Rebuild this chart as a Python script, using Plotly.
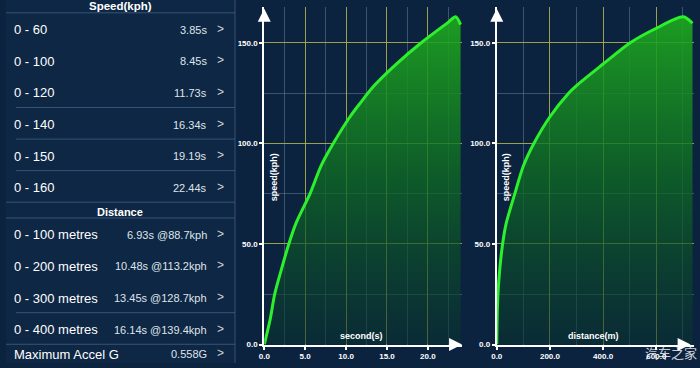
import plotly.graph_objects as go

# ---------------- data ----------------
speed_labels = ["0 - 60", "0 - 100", "0 - 120", "0 - 140", "0 - 150", "0 - 160"]
speed_values = ["3.85s", "8.45s", "11.73s", "16.34s", "19.19s", "22.44s"]
distance_labels = ["0 - 100 metres", "0 - 200 metres", "0 - 300 metres", "0 - 400 metres"]
distance_values = ["6.93s @88.7kph", "10.48s @113.2kph", "13.45s @128.7kph", "16.14s @139.4kph"]
accel_label = "Maximum Accel G"
accel_value = "0.558G"

time_s = [0, 0.73, 1.27, 2.07, 3.0, 3.85, 5.6, 6.93, 8.45, 10.48, 11.73, 13.45, 16.14, 19.19, 22.44, 23.4, 24.0]
speed_t = [0, 12.7, 25, 37, 50, 60, 75, 88.7, 100, 113.2, 120, 128.7, 139.4, 150, 160, 162.9, 159.0]

dist_m = [0, 1.3, 4.5, 11, 22, 35, 68, 100, 140, 200, 271, 300, 400, 502, 600, 701, 736]
speed_d = [0, 12.7, 25, 37, 50, 60, 75, 88.7, 100, 113.2, 125, 128.7, 139.4, 150, 157.2, 162.9, 159.7]

x1_ticks = [0, 5, 10, 15, 20]
x2_ticks = [0, 200, 400, 600]
y_ticks = [0, 50, 100, 150]

# ---------------- styling ----------------
W, H = 700, 368
BG = "#0c2340"
PANEL = "#0e2744"
SEP = "rgba(70,100,135,0.75)"
MAJOR = "rgba(175,175,70,0.85)"
MINOR = "rgba(95,125,150,0.55)"
LINE = "#2cf02c"
FONT = "Liberation Sans"


def px(x):
    return x / W


def py(y):
    return 1 - y / H


fig = go.Figure()

fill_grad = dict(type="vertical",
                 colorscale=[[0, "rgba(8,50,45,0.55)"], [0.5, "rgba(14,105,35,0.78)"], [1, "rgba(30,170,30,0.9)"]])

fig.add_trace(go.Scatter(x=time_s, y=speed_t, mode="lines", xaxis="x", yaxis="y",
                         line=dict(color=LINE, width=3, shape="spline", smoothing=0.8),
                         fill="tozeroy", fillgradient=fill_grad, hoverinfo="skip", showlegend=False))
fig.add_trace(go.Scatter(x=dist_m, y=speed_d, mode="lines", xaxis="x2", yaxis="y2",
                         line=dict(color=LINE, width=3, shape="spline", smoothing=0.8),
                         fill="tozeroy", fillgradient=fill_grad, hoverinfo="skip", showlegend=False))

tickfont = dict(family=FONT, size=8, color="white", weight="bold")

def xaxis(domain, rng, ticks, minor):
    return dict(domain=domain, range=rng, tickvals=ticks, tickformat=".1f",
                showgrid=True, gridcolor=MAJOR, gridwidth=1,
                minor=dict(dtick=minor, showgrid=True, gridcolor=MINOR, gridwidth=1, ticks=""),
                showline=True, linecolor="white", linewidth=2,
                ticks="outside", ticklen=3, tickcolor="white", tickwidth=2,
                tickfont=tickfont, zeroline=False, fixedrange=True)

def yaxis(anchor, domain, rng):
    return dict(anchor=anchor, domain=domain, range=rng, tickvals=y_ticks, tickformat=".1f",
                showgrid=True, gridcolor=MAJOR, gridwidth=1,
                minor=dict(dtick=25, showgrid=True, gridcolor=MINOR, gridwidth=1, ticks=""),
                showline=True, linecolor="white", linewidth=2,
                ticks="outside", ticklen=3, tickcolor="white", tickwidth=2,
                tickfont=tickfont, zeroline=False, fixedrange=True)

ydom = [py(349.3), py(7)]
yr = [0, (349.3 - 7) / 2.04]

fig.update_layout(
    width=W, height=H, margin=dict(l=0, r=0, t=0, b=0),
    paper_bgcolor=BG, plot_bgcolor=BG,
    xaxis=xaxis([px(260.5), px(460)], [0, (460 - 260.5) / 8.25], x1_ticks, 2.5) | dict(anchor="y"),
    yaxis=yaxis("x", ydom, yr),
    xaxis2=xaxis([px(495.0), px(693.5)], [0, 740], x2_ticks, 100) | dict(anchor="y2"),
    yaxis2=yaxis("x2", ydom, yr),
)

shapes = []
annotations = []

# left panel background
shapes.append(dict(type="rect", xref="paper", yref="paper", x0=0, x1=px(231), y0=0, y1=1,
                   fillcolor=PANEL, line=dict(width=0), layer="below"))
shapes.append(dict(type="line", xref="paper", yref="paper", x0=px(231), x1=px(231), y0=0, y1=1,
                   line=dict(color=SEP, width=1)))

# separators
for y0, xs in [(13, 0), (109, 10), (141, 10), (173, 10), (205, 0), (221, 0), (317, 10), (349, 0)]:
    shapes.append(dict(type="line", xref="paper", yref="paper", x0=px(xs), x1=px(231),
                       y0=py(y0), y1=py(y0), line=dict(color=SEP, width=1)))

def txt(x, y, s, size, color="white", xanchor="left", bold=False, family=FONT, **kw):
    annotations.append(dict(xref="paper", yref="paper", x=px(x), y=py(y), text=s, showarrow=False,
                            xanchor=xanchor, yanchor="middle",
                            font=dict(family=family, size=size, color=color,
                                      weight="bold" if bold else "normal"), **kw))

LX, VX, CX = 6, 205, 216
txt(115, 6, "Speed(kph)", 11.5, xanchor="center", bold=True)
for i, (lab, val) in enumerate(zip(speed_labels, speed_values)):
    y = 30 + 32.1 * i
    txt(LX, y, lab, 13)
    txt(VX, y, val, 11, color="#dfe4ea", xanchor="right")
    txt(CX, y - 1, ">", 12, color="#d0d6de", xanchor="center")

txt(115, 215, "Distance", 11, xanchor="center", bold=True)
for i, (lab, val) in enumerate(zip(distance_labels, distance_values)):
    y = 238 + 32.1 * i
    txt(LX, y, lab, 13)
    txt(VX, y, val, 11, color="#dfe4ea", xanchor="right")
    txt(CX, y - 1, ">", 12, color="#d0d6de", xanchor="center")

txt(LX, 359, accel_label, 13)
txt(VX, 359, accel_value, 11, color="#dfe4ea", xanchor="right")
txt(CX, 358, ">", 12, color="#d0d6de", xanchor="center")

# axis titles inside plots
txt(359, 341, "second(s)", 9, xanchor="center", bold=True)
txt(593, 341, "distance(m)", 9, xanchor="center", bold=True)
txt(270, 180, "speed(kph)", 9, xanchor="center", bold=True, textangle=-90)
txt(504, 180, "speed(kph)", 9, xanchor="center", bold=True, textangle=-90)

# arrows
for xr, yr_, xtip in [("x", "y", (460 - 260.5) / 8.25), ("x2", "y2", (690.5 - 495.0) / 0.2682)]:
    annotations.append(dict(xref=xr, yref=yr_, x=0, y=(349.3 - 9) / 2.04, ax=0, ay=12, text="",
                            showarrow=True, arrowhead=2, arrowsize=1.3, arrowwidth=2, arrowcolor="white"))
    annotations.append(dict(xref=xr, yref=yr_, x=xtip, y=0, ax=-12, ay=0, text="",
                            showarrow=True, arrowhead=2, arrowsize=1.3, arrowwidth=2, arrowcolor="white"))

# watermark
txt(671, 357, "汽车之家", 13, color="rgba(255,255,255,0.8)", xanchor="center", family="Noto Sans CJK SC")

fig.update_layout(shapes=shapes, annotations=annotations)
fig.write_html("out.html", config={"responsive": False, "displayModeBar": False},
               post_script="document.body.style.margin='0';document.body.style.overflow='hidden';")
